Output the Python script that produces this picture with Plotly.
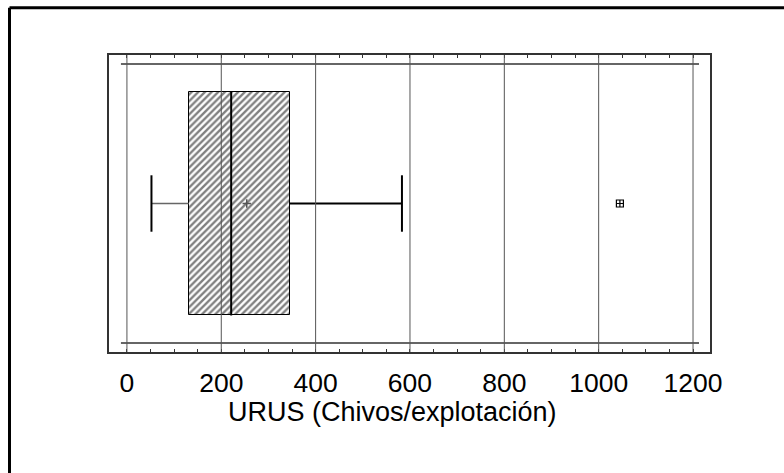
import plotly.graph_objects as go

# Five-number summary of URUS (goats per farm)
q1 = 131
median = 221
q3 = 345
mean = 254
whisker_low = 52
whisker_high = 583
outliers = [1045]

tick_vals = [0, 200, 400, 600, 800, 1000, 1200]
tick_text = ["0", "200", "400", "600", "800", "1000", "1200"]
x_title = "URUS (Chivos/explotación)"

box_half = 0.754
cap_half = 0.19
inner_y = 0.94

fig = go.Figure()

# hatched box from Q1 to Q3
fig.add_trace(go.Bar(
    y=[0], x=[q3 - q1], base=[q1], orientation="h", width=2 * box_half,
    marker=dict(color="white", line=dict(color="black", width=1),
                pattern=dict(shape="/", fgcolor="black", bgcolor="white",
                             size=4.7, solidity=0.5)),
    hoverinfo="skip", showlegend=False,
))

# median
fig.add_trace(go.Scatter(x=[median, median], y=[-box_half, box_half], mode="lines",
                         line=dict(color="black", width=2), showlegend=False))
# whiskers
fig.add_trace(go.Scatter(x=[whisker_low, q1], y=[0, 0], mode="lines",
                         line=dict(color="#666666", width=1.5), showlegend=False))
fig.add_trace(go.Scatter(x=[q3, whisker_high], y=[0, 0], mode="lines",
                         line=dict(color="black", width=2), showlegend=False))
for w in (whisker_low, whisker_high):
    fig.add_trace(go.Scatter(x=[w, w], y=[-cap_half, cap_half], mode="lines",
                             line=dict(color="black", width=2), showlegend=False))
# mean
fig.add_trace(go.Scatter(x=[mean], y=[0], mode="markers",
                         marker=dict(symbol="cross-thin-open", size=6, color="#555555",
                                     line=dict(color="#555555", width=1.5)),
                         showlegend=False))
# outliers
fig.add_trace(go.Scatter(x=outliers, y=[0] * len(outliers), mode="markers",
                         marker=dict(symbol="square-cross-open", size=7, color="black",
                                     line=dict(color="black", width=1.2)),
                         showlegend=False))

x_lo, x_hi = -38, 1236
inner_lo, inner_hi = -12.7, 1212.7

shapes = []
# vertical grid drawn over the box
for v in tick_vals:
    shapes.append(dict(type="line", xref="x", yref="paper", x0=v, x1=v, y0=0, y1=1,
                       line=dict(color="#555555", width=1), layer="above"))
for yy in (-inner_y, inner_y):
    shapes.append(dict(type="line", xref="x", yref="y", x0=inner_lo, x1=inner_hi,
                       y0=yy, y1=yy, line=dict(color="#333333", width=1.5), layer="below"))
# page border (left and top edges)
left_x = (9.5 - 109) / 601
top_y = 1 + (55 - 7.8) / 297
shapes.append(dict(type="line", xref="paper", yref="paper",
                   x0=left_x, x1=left_x, y0=-2, y1=top_y,
                   line=dict(color="black", width=3)))
shapes.append(dict(type="line", xref="paper", yref="paper",
                   x0=left_x, x1=2, y0=top_y, y1=top_y,
                   line=dict(color="black", width=3)))

fig.update_layout(
    width=784, height=473,
    margin=dict(l=109, r=74, t=55, b=121),
    paper_bgcolor="white", plot_bgcolor="white",
    font=dict(family="Liberation Sans, Arial, sans-serif", color="black"),
    shapes=shapes,
    bargap=0,
    annotations=[dict(text=x_title, xref="paper", yref="paper",
                      x=(392 - 109) / 601, y=(352 - 412) / 297,
                      xanchor="center", yanchor="middle", showarrow=False,
                      font=dict(size=27))],
    xaxis=dict(
        range=[x_lo, x_hi], tickvals=tick_vals, ticktext=tick_text,
        showgrid=False,
        zeroline=False, showline=True, linecolor="#333333", linewidth=1.5,
        mirror="allticks", ticks="inside", ticklen=3, tickcolor="#333333",
        minor=dict(dtick=50, tick0=0, ticks="inside", ticklen=3, tickcolor="#333333",
                   showgrid=False),
        tickfont=dict(size=26.5), ticklabelstandoff=6,
    ),
    yaxis=dict(
        range=[-1, 1], showgrid=False, zeroline=False, showticklabels=False,
        showline=True, linecolor="#333333", linewidth=1.5, mirror=True, ticks="",
        fixedrange=True,
    ),
)

fig.write_html("out.html")
